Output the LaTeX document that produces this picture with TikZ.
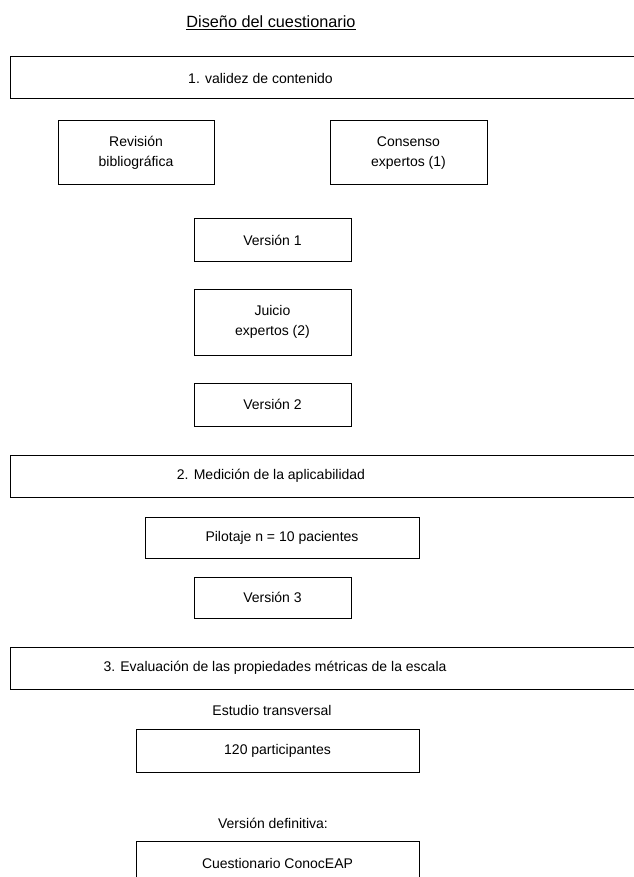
\documentclass[tikz,border=0pt]{standalone}
\usepackage{fontspec}
\setmainfont{Liberation Sans}
\begin{document}
\begin{tikzpicture}[x=0.75pt, y=-0.75pt,
		font=\fontsize{10.5}{15}\selectfont,
		caja/.style={draw, line width=0.75pt, inner sep=0pt, align=center},
		fase/.style={caja, minimum width=700*0.75pt, minimum height=42*0.75pt},
		version/.style={caja, minimum width=157*0.75pt, minimum height=42*0.75pt},
		ancha/.style={caja, minimum width=283*0.75pt, minimum height=43*0.75pt},
		rotulo/.style={inner sep=0pt}]
		\useasboundingbox (0,0) rectangle (634,877);
		\clip (0,0) rectangle (634,877);
		% Title
		\node[rotulo, font=\fontsize{12.2}{15}\selectfont] (titulo) at (271,23) {\underline{Diseño del cuestionario}};
		% 1. validez de contenido
		\node[fase] (fase1) at (360,78) {};
		\node[rotulo] (fase1txt) at (260.5,78) {1. validez de contenido};
		\node[caja, minimum width=156*0.75pt, minimum height=64*0.75pt] (revision) at (136,153) {Revisión\\bibliográfica};
		\node[caja, minimum width=157*0.75pt, minimum height=64*0.75pt] (consenso) at (408.5,153) {Consenso\\expertos (1)};
		\node[version] (v1) at (272.5,240) {Versión 1};
		\node[version, minimum height=66*0.75pt] (juicio) at (272.5,322) {Juicio\\expertos (2)};
		\node[version, minimum height=43*0.75pt] (v2) at (272.5,404.5) {Versión 2};
		% 2. Medicion de la aplicabilidad
		\node[fase] (fase2) at (360,476) {};
		\node[rotulo] (fase2txt) at (271,476) {2. Medición de la aplicabilidad};
		\node[caja, minimum width=274*0.75pt, minimum height=41*0.75pt] (pilotaje) at (282,537.5) {Pilotaje n = 10 pacientes};
		\node[version, minimum height=41*0.75pt] (v3) at (272.5,597.5) {Versión 3};
		% 3. Evaluacion de las propiedades
		\node[fase] (fase3) at (360,668) {};
		\node[rotulo] (fase3txt) at (275,668) {3. Evaluación de las propiedades métricas de la escala};
		\node[rotulo] (estudio) at (272,710) {Estudio transversal};
		\node[ancha] (participantes) at (277.5,750.5) {120 participantes};
		\node[rotulo] (definitiva) at (273,823) {Versión definitiva:};
		\node[ancha, minimum height=44*0.75pt] (conoceap) at (277.5,863) {Cuestionario ConocEAP};
	\end{tikzpicture}
\end{document}
